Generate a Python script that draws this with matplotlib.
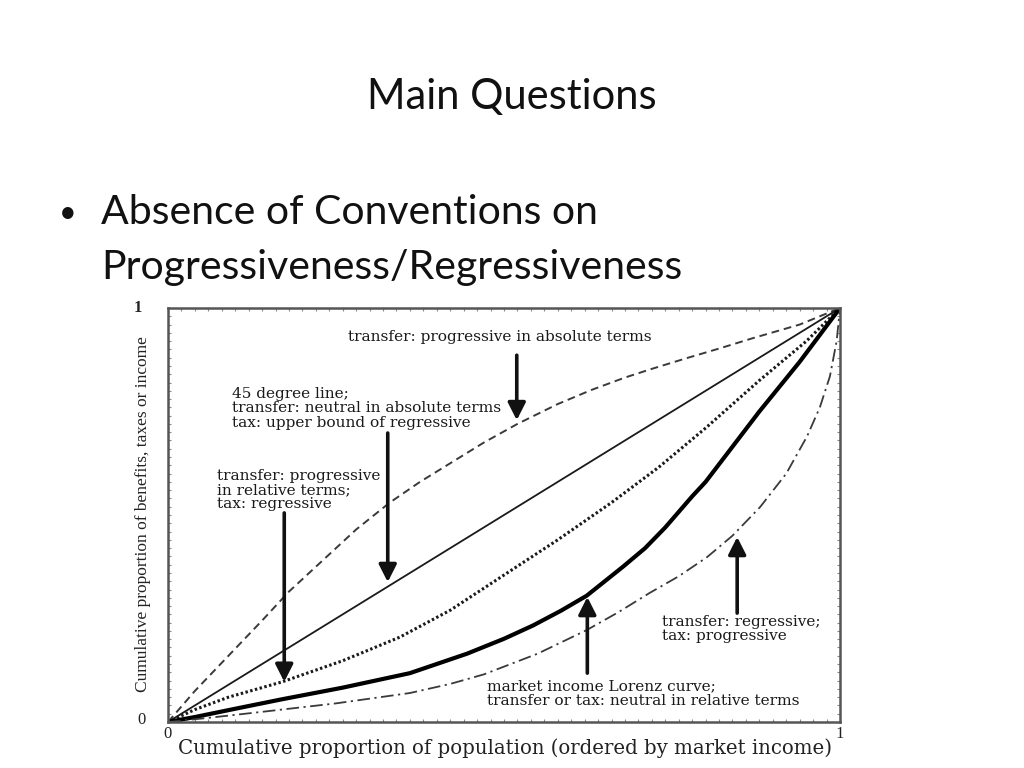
import matplotlib
matplotlib.use("Agg")
import matplotlib.pyplot as plt
import numpy as np
from matplotlib.ticker import MultipleLocator

# ---- data (cumulative shares) ----
x_abs_prog = [0, 0.04, 0.09, 0.14, 0.18, 0.23, 0.28, 0.33, 0.375, 0.42, 0.47, 0.52, 0.58, 0.63, 0.68, 0.72, 0.77, 0.82, 0.87, 0.94, 1.0]
y_abs_prog = [0, 0.075, 0.16, 0.245, 0.315, 0.39, 0.465, 0.53, 0.58, 0.625, 0.675, 0.72, 0.768, 0.802, 0.832, 0.853, 0.878, 0.902, 0.927, 0.96, 1.0]

x_diag = [0, 1]
y_diag = [0, 1]

x_rel_prog = [0, 0.04, 0.09, 0.17, 0.26, 0.345, 0.42, 0.5, 0.58, 0.66, 0.73, 0.8, 0.88, 0.95, 1.0]
y_rel_prog = [0, 0.03, 0.06, 0.097, 0.148, 0.205, 0.27, 0.355, 0.44, 0.53, 0.615, 0.71, 0.825, 0.92, 1.0]

x_lorenz = [0, 0.04, 0.1, 0.17, 0.26, 0.36, 0.445, 0.5, 0.543, 0.585, 0.623, 0.677, 0.71, 0.74, 0.78,
            0.8, 0.84, 0.88, 0.91, 0.94, 0.97, 1.0]
y_lorenz = [0, 0.012, 0.032, 0.055, 0.083, 0.118, 0.165, 0.201, 0.233, 0.269, 0.305, 0.375, 0.42, 0.47, 0.545,
            0.58, 0.665, 0.75, 0.81, 0.87, 0.935, 1.0]

x_regr = [0, 0.06, 0.137, 0.25, 0.36, 0.42, 0.47, 0.55, 0.623, 0.67, 0.717, 0.76, 0.802, 0.84, 0.881,
          0.92, 0.951, 0.97, 0.985, 0.995, 1.0]
y_regr = [0, 0.01, 0.024, 0.045, 0.07, 0.092, 0.115, 0.165, 0.222, 0.265, 0.312, 0.352, 0.398, 0.45, 0.519,
          0.6, 0.69, 0.76, 0.835, 0.92, 1.0]

# annotation texts and arrow (x, y_start, y_end)
ann_texts = [
    "transfer: progressive in absolute terms",
    "45 degree line;\ntransfer: neutral in absolute terms\ntax: upper bound of regressive",
    "transfer: progressive\nin relative terms;\ntax: regressive",
    "market income Lorenz curve;\ntransfer or tax: neutral in relative terms",
    "transfer: regressive;\ntax: progressive",
]
ann_text_x = [0.268, 0.095, 0.073, 0.475, 0.735]
ann_text_y = [0.930, 0.758, 0.560, 0.069, 0.225]
arrow_x = [0.519, 0.327, 0.173, 0.624, 0.847]
arrow_y0 = [0.886, 0.698, 0.505, 0.118, 0.263]
arrow_y1 = [0.729, 0.338, 0.097, 0.302, 0.447]

title = "Main Questions"
bullet_lines = ["Absence of Conventions on", "Progressiveness/Regressiveness"]
xlabel = "Cumulative proportion of population (ordered by market income)"
ylabel = "Cumulative proportion of benefits, taxes or income"

W, H = 1024, 768
fig = plt.figure(figsize=(W / 100, H / 100), dpi=100)
fig.patch.set_facecolor("white")

def fx(px):
    return px / W

def fy(py):
    return 1 - py / H

sans = ["Lato", "Open Sans", "DejaVu Sans"]
fig.text(fx(512), fy(97), title, family=sans, fontsize=30, ha="center", va="center", color="#111")
fig.text(fx(68), fy(213), "\u2022", family=sans, fontsize=22, ha="center", va="center", color="#111")
fig.text(fx(101), fy(213), bullet_lines[0], family=sans, fontsize=29.5, ha="left", va="center", color="#111")
fig.text(fx(101), fy(268), bullet_lines[1], family=sans, fontsize=29.5, ha="left", va="center", color="#111")

ax = fig.add_axes([fx(168), 1 - 722 / H, 672 / W, 414 / H])
ax.set_xlim(0, 1)
ax.set_ylim(0, 1)

lc = "#1a1a1a"
ax.plot(x_abs_prog, y_abs_prog, color="#3a3a3a", lw=1.4, ls=(0, (4, 2.5)))
ax.plot(x_diag, y_diag, color=lc, lw=1.3, ls="-")
ax.plot(x_rel_prog, y_rel_prog, color=lc, lw=2.2, ls=(0, (0.8, 0.8)))
ax.plot(x_lorenz, y_lorenz, color="#000", lw=3.0, ls="-", solid_capstyle="round", solid_joinstyle="round")
ax.plot(x_regr, y_regr, color="#3a3a3a", lw=1.3, ls=(0, (7, 2.5, 1.2, 2.5)))

for xa, y0, y1 in zip(arrow_x, arrow_y0, arrow_y1):
    ax.annotate("", xy=(xa, y1), xytext=(xa, y0),
                arrowprops=dict(arrowstyle="-|>,head_length=0.75,head_width=0.38",
                                lw=2.6, color="#111", shrinkA=0, shrinkB=0,
                                mutation_scale=14))

serif_w = ["DejaVu Serif"]
for t, xt, yt in zip(ann_texts, ann_text_x, ann_text_y):
    ax.text(xt, yt, t, family=serif_w, fontsize=11.1, ha="left", va="center",
            linespacing=1.03, color="#1a1a1a")

for s in ax.spines.values():
    s.set_color("#555")
    s.set_linewidth(1.8)
ax.xaxis.set_minor_locator(MultipleLocator(0.02))
ax.yaxis.set_minor_locator(MultipleLocator(0.02))
ax.set_xticks([])
ax.set_yticks([])
ax.tick_params(which="minor", direction="in", length=2.5, width=0.8, color="#888",
               top=True, right=True, labelbottom=False, labelleft=False)

serif = ["Liberation Serif", "DejaVu Serif"]
ax.text(-0.045, 1.0, "1", transform=ax.transAxes, family=serif, fontsize=12,
        fontweight="bold", ha="center", va="center", color="#222")
ax.text(-0.039, 0.005, "0", transform=ax.transAxes, family=serif, fontsize=12,
        ha="center", va="center", color="#222")
ax.text(0.0, -0.03, "0", transform=ax.transAxes, family=serif, fontsize=12,
        ha="center", va="center", color="#222")
ax.text(1.0, -0.03, "1", transform=ax.transAxes, family=serif, fontsize=12,
        ha="center", va="center", color="#222")
ax.text(-0.037, 0.502, ylabel, transform=ax.transAxes, family=serif, fontsize=12.5,
        rotation=90, ha="center", va="center", color="#222")
fig.text(fx(505), fy(748), xlabel, family=["DejaVu Serif"], fontsize=14.2,
         ha="center", va="center", color="#222")

fig.savefig("out.png", dpi=100, facecolor="white")
